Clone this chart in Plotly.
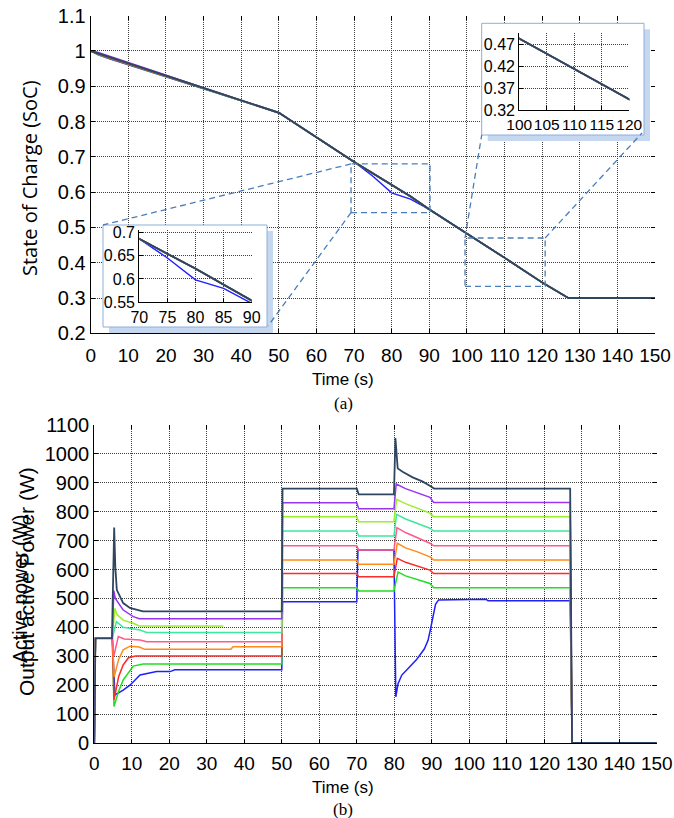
import plotly.graph_objects as go

W, H = 674, 818

# ---------------- data ----------------
series_names = ["blue", "green", "red", "orange", "pink", "aqua", "lime", "purple", "slate"]
series_colors = ["#1f1fff", "#22dd22", "#ff2a2a", "#ff8c1a", "#ff5a8c",
                 "#3ee89c", "#9cef2e", "#9a34f5", "#2e4660"]

# (a) State of charge
soc_t = [0, 2, 5, 50, 70, 75, 80, 85, 90, 100, 110, 120, 127, 150]
soc_blue = [1.0, 0.989, 0.978, 0.825, 0.686, 0.645, 0.598, 0.580, 0.551, 0.483, 0.414, 0.344, 0.300, 0.300]
soc_green = [1.0, 0.990, 0.979, 0.825, 0.686, 0.654, 0.622, 0.588, 0.551, 0.483, 0.414, 0.344, 0.300, 0.300]
soc_red = [1.0, 0.991, 0.980, 0.825, 0.686, 0.654, 0.622, 0.588, 0.551, 0.483, 0.414, 0.344, 0.300, 0.300]
soc_orange = [1.0, 0.992, 0.981, 0.825, 0.686, 0.654, 0.622, 0.588, 0.551, 0.483, 0.414, 0.344, 0.300, 0.300]
soc_pink = [1.0, 0.993, 0.982, 0.825, 0.686, 0.654, 0.622, 0.588, 0.551, 0.483, 0.414, 0.344, 0.300, 0.300]
soc_aqua = [1.0, 0.994, 0.983, 0.825, 0.686, 0.654, 0.622, 0.588, 0.551, 0.483, 0.414, 0.344, 0.300, 0.300]
soc_lime = [1.0, 0.995, 0.984, 0.825, 0.686, 0.654, 0.622, 0.588, 0.551, 0.483, 0.414, 0.344, 0.300, 0.300]
soc_purple = [1.0, 0.996, 0.985, 0.825, 0.686, 0.654, 0.622, 0.588, 0.551, 0.483, 0.414, 0.344, 0.300, 0.300]
soc_slate = [1.0, 0.993, 0.982, 0.825, 0.686, 0.654, 0.622, 0.588, 0.551, 0.483, 0.414, 0.344, 0.300, 0.300]

# (b) Active power
t_blue = [0, 0.3, 4.8, 5.5, 7.7, 9.5, 12.2, 16.6, 20.2, 21.5, 50.0, 50.2, 70.0, 70.3, 79.9, 80.4, 81.0,
          82.0, 84.0, 86.0, 88.0, 89.0, 89.6, 90.3, 91.0, 91.8, 104.5, 105.0, 126.9, 127.4, 150]
p_blue = [0, 362, 362, 166, 183, 200, 235, 247, 247, 253, 253, 489, 489, 668, 668, 160, 205,
          235, 262, 290, 325, 355, 391, 440, 480, 495, 497, 492, 492, 0, 0]
t_green = [0, 0.3, 4.8, 5.25, 6.5, 7.7, 10.4, 13.0, 50.0, 50.2, 70.0, 70.5, 79.9, 81.0, 83.0, 86.0,
           89.5, 90.5, 126.9, 127.4, 150]
p_green = [0, 362, 362, 126, 180, 218, 266, 273, 273, 537, 537, 526, 526, 591, 578, 566,
           552, 537, 537, 0, 0]
t_red = [0, 0.3, 4.8, 5.25, 6.5, 7.7, 9.1, 11.0, 50.0, 50.2, 70.0, 70.5, 79.9, 80.8, 83.0, 86.0,
         89.5, 90.5, 126.9, 127.4, 150]
p_red = [0, 362, 362, 149, 230, 270, 295, 301, 301, 586, 586, 575, 575, 639, 625, 612,
         598, 586, 586, 0, 0]
t_orange = [0, 0.3, 4.8, 5.3, 6.5, 7.7, 9.5, 12.0, 13.5, 36.4, 37.0, 50.0, 50.2, 70.0, 70.5, 79.9,
            80.8, 83.0, 86.0, 89.5, 90.5, 126.9, 127.4, 150]
p_orange = [0, 362, 362, 229, 290, 322, 335, 332, 324, 324, 333, 333, 633, 633, 618, 618,
            691, 675, 662, 644, 633, 633, 0, 0]
t_pink = [0, 0.3, 4.8, 5.2, 6.4, 8.0, 12.2, 14.0, 50.0, 50.2, 70.0, 70.5, 79.9, 80.7, 83.0, 86.0,
          89.5, 90.5, 126.9, 127.4, 150]
p_pink = [0, 362, 362, 300, 368, 360, 356, 350, 350, 682, 682, 668, 668, 745, 728, 712,
          691, 682, 682, 0, 0]
t_aqua = [0, 0.3, 4.8, 5.9, 7.7, 12.2, 14.0, 50.0, 50.2, 70.0, 70.5, 79.9, 80.6, 83.0, 86.0,
          89.5, 90.5, 126.9, 127.4, 150]
p_aqua = [0, 362, 362, 420, 400, 391, 382, 382, 733, 733, 716, 716, 791, 775, 760,
          743, 733, 733, 0, 0]
t_lime = [0, 0.3, 4.8, 5.5, 6.0, 7.7, 10.4, 12.0, 34.4, 34.5, 49.9, 50.2, 70.0, 70.5, 79.9, 80.6,
          83.0, 86.0, 89.5, 90.5, 126.9, 127.4, 150]
p_lime = [0, 362, 362, 466, 445, 425, 414, 405, 405, None, 405, 783, 783, 765, 765, 843,
          828, 812, 795, 783, 783, 0, 0]
t_purple = [0, 0.3, 4.8, 5.2, 5.6, 7.7, 10.4, 12.0, 50.0, 50.2, 70.0, 70.5, 79.9, 80.5, 83.0, 86.0,
            89.5, 90.5, 126.9, 127.4, 150]
p_purple = [0, 362, 362, 527, 500, 460, 437, 430, 430, 831, 831, 810, 810, 896, 880, 865,
            850, 832, 832, 0, 0]
t_slate = [0, 0.3, 4.7, 5.3, 5.6, 6.0, 7.7, 9.5, 12.2, 13.0, 50.0, 50.2, 70.0, 70.5, 79.9, 80.3,
           80.9, 82.2, 84.9, 87.6, 89.8, 90.6, 126.9, 127.4, 150]
p_slate = [0, 362, 362, 745, 610, 530, 484, 467, 458, 455, 455, 880, 880, 860, 860, 1055,
           950, 938, 919, 904, 887, 880, 880, 0, 0]

# ticks
time_ticks = list(range(0, 151, 10))
soc_ticks = [0.2, 0.3, 0.4, 0.5, 0.6, 0.7, 0.8, 0.9, 1.0, 1.1]
soc_labels = ["0.2", "0.3", "0.4", "0.5", "0.6", "0.7", "0.8", "0.9", "1", "1.1"]
power_ticks = list(range(0, 1101, 100))
in1_xticks = [70, 75, 80, 85, 90]
in1_yticks = [0.55, 0.6, 0.65, 0.7]
in1_ylabels = ["0.55", "0.6", "0.65", "0.7"]
in2_xticks = [100, 105, 110, 115, 120]
in2_yticks = [0.32, 0.37, 0.42, 0.47]

soc_series = [soc_blue, soc_green, soc_red, soc_orange, soc_pink, soc_aqua, soc_lime, soc_purple, soc_slate]
pow_t = [t_blue, t_green, t_red, t_orange, t_pink, t_aqua, t_lime, t_purple, t_slate]
pow_p = [p_blue, p_green, p_red, p_orange, p_pink, p_aqua, p_lime, p_purple, p_slate]

# ---------------- layout geometry (pixels -> paper) ----------------
def px(x):
    return x / W

def py(y):
    return 1 - y / H

TOP_X = [px(90.7), px(655)]
TOP_Y = [py(333.3), py(15.7)]
BOT_X = [px(94.3), px(656.8)]
BOT_Y = [py(743), py(425)]
IN1_X = [px(139.3), px(251.7)]
IN1_Y = [py(302.3), py(230)]
IN2_X = [px(519.3), px(629.3)]
IN2_Y = [py(110), py(33.3)]

FONT = "Liberation Sans, Arial, sans-serif"
GRID = "#3c3c3c"

fig = go.Figure()

for i, name in enumerate(series_names):
    w = 2.0 if name == "slate" else 1.4
    fig.add_trace(go.Scatter(x=soc_t, y=soc_series[i], mode="lines", xaxis="x", yaxis="y",
                             line=dict(color=series_colors[i], width=w),
                             showlegend=False, hoverinfo="skip"))
for i, name in enumerate(series_names):
    w = 1.8 if name == "slate" else 1.5
    fig.add_trace(go.Scatter(x=pow_t[i], y=pow_p[i], mode="lines", xaxis="x2", yaxis="y2",
                             line=dict(color=series_colors[i], width=w), connectgaps=False,
                             showlegend=False, hoverinfo="skip"))

# inset boxes (white cards with light-blue shadow), drawn in a full-page layer
def card(x0, y0, x1, y1):
    return [px(x0), px(x1), px(x1), px(x0), px(x0)], [py(y0), py(y0), py(y1), py(y1), py(y0)]

for (bx0, by0, bx1, by1) in ((103, 225, 267, 327), (481.7, 23.3, 644, 135)):
    sx, sy = card(bx0 + 6, by0 + 6, bx1 + 6, by1 + 6)
    fig.add_trace(go.Scatter(x=sx, y=sy, xaxis="x3", yaxis="y3", mode="lines", fill="toself",
                             fillcolor="#c6d8ef", line=dict(width=0), showlegend=False, hoverinfo="skip"))
    cx, cy = card(bx0, by0, bx1, by1)
    fig.add_trace(go.Scatter(x=cx, y=cy, xaxis="x3", yaxis="y3", mode="lines", fill="toself",
                             fillcolor="white", line=dict(color="#8eaedb", width=1),
                             showlegend=False, hoverinfo="skip"))

# inset curves
for i, name in enumerate(series_names):
    w = 2.0 if name == "slate" else 1.4
    for xa, ya in (("x4", "y4"), ("x5", "y5")):
        fig.add_trace(go.Scatter(x=soc_t, y=soc_series[i], mode="lines", xaxis=xa, yaxis=ya,
                                 line=dict(color=series_colors[i], width=w),
                                 showlegend=False, hoverinfo="skip"))

# dummy traces to register mirror-tick axes
for xa, ya in (("x6", "y"), ("x", "y6"), ("x7", "y2"), ("x2", "y7")):
    fig.add_trace(go.Scatter(x=[None], y=[None], xaxis=xa, yaxis=ya, mode="lines",
                             showlegend=False, hoverinfo="skip"))

def ax(domain, rng, tickvals, ticktext=None, anchor=None, size=19, standoff=0):
    d = dict(domain=domain, range=rng, tickmode="array", tickvals=tickvals,
             ticks="inside", ticklen=4, tickcolor="black", tickwidth=1, tickangle=0,
             showgrid=True, gridcolor=GRID, gridwidth=1, griddash="1px,1px",
             showline=True, linecolor="black", linewidth=1.2, zeroline=False, automargin=False,
             ticklabelstandoff=standoff,
             tickfont=dict(family=FONT, size=size, color="black"), fixedrange=True)
    if ticktext is not None:
        d["ticktext"] = ticktext
    if anchor:
        d["anchor"] = anchor
    return d

def mirror(overlay, anchor, side, rng, tickvals):
    return dict(overlaying=overlay, anchor=anchor, side=side, range=rng, tickmode="array",
                tickvals=tickvals, ticks="inside", ticklen=4, tickcolor="black",
                showticklabels=False, showgrid=False, showline=False, zeroline=False,
                automargin=False, fixedrange=True)

# connectors: top-axes data -> paper
def tp(t, s):
    return (TOP_X[0] + (TOP_X[1] - TOP_X[0]) * t / 150.0,
            TOP_Y[0] + (TOP_Y[1] - TOP_Y[0]) * (s - 0.2) / 0.9)

DASH = dict(color="#4a7ebb", width=1.3, dash="6px,4px")
shapes = [
    dict(type="rect", xref="x", yref="y", x0=69.2, x1=90.2, y0=0.542, y1=0.68, line=DASH, layer="above"),
    dict(type="rect", xref="x", yref="y", x0=99.5, x1=120.8, y0=0.333, y1=0.47, line=DASH, layer="above"),
]
for (t, s), (qx, qy) in (((69.2, 0.68), (103, 225)), ((69.2, 0.542), (268, 326)),
                         ((99.5, 0.47), (481.7, 135)), ((120.8, 0.47), (642, 133))):
    a = tp(t, s)
    shapes.append(dict(type="line", xref="paper", yref="paper", x0=a[0], y0=a[1],
                       x1=px(qx), y1=py(qy), line=DASH, layer="above"))

def ann(text, x, y, size, family=FONT, angle=0):
    return dict(text=text, x=px(x), y=py(y), xref="paper", yref="paper", showarrow=False,
                textangle=angle, font=dict(family=family, size=size, color="black"),
                xanchor="center", yanchor="middle")

annotations = [
    ann("Time (s)", 343, 379, 17),
    ann("(a)", 343, 404, 17, family="Liberation Serif, Times New Roman, serif"),
    ann("Time (s)", 343, 787, 17),
    ann("(b)", 343, 809, 17, family="Liberation Serif, Times New Roman, serif"),
    ann("State of Charge (SoC)", 30, 178, 20, family="Open Sans, Noto Sans, sans-serif", angle=-90),
    ann("Output active Power (W)", 26, 582, 21, angle=-90),
    ann("Active power (W)", 20, 589, 19.5, angle=-90),
]

fig.update_layout(
    width=W, height=H, margin=dict(l=0, r=0, t=0, b=0, autoexpand=False),
    paper_bgcolor="white", plot_bgcolor="rgba(0,0,0,0)", showlegend=False,
    xaxis=ax(TOP_X, [0, 150], time_ticks, anchor="y", standoff=5),
    yaxis=ax(TOP_Y, [0.2, 1.1], soc_ticks, soc_labels, anchor="x", size=20),
    xaxis2=ax(BOT_X, [0, 150], time_ticks, anchor="y2", standoff=3),
    yaxis2=ax(BOT_Y, [0, 1100], power_ticks, anchor="x2", size=20),
    xaxis3=dict(domain=[0, 1], range=[0, 1], visible=False, fixedrange=True, anchor="y3", automargin=False),
    yaxis3=dict(domain=[0, 1], range=[0, 1], visible=False, fixedrange=True, anchor="x3", automargin=False),
    xaxis4=ax(IN1_X, [70, 90], in1_xticks, anchor="y4", size=16),
    yaxis4=ax(IN1_Y, [0.55, 0.705], in1_yticks, in1_ylabels, anchor="x4", size=16),
    xaxis5=ax(IN2_X, [100, 120], in2_xticks, anchor="y5", size=15.5),
    yaxis5=ax(IN2_Y, [0.32, 0.495], in2_yticks, anchor="x5", size=16),
    xaxis6=mirror("x", "y", "top", [0, 150], time_ticks),
    yaxis6=mirror("y", "x", "right", [0.2, 1.1], soc_ticks),
    xaxis7=mirror("x2", "y2", "top", [0, 150], time_ticks),
    yaxis7=mirror("y2", "x2", "right", [0, 1100], power_ticks),
    shapes=shapes, annotations=annotations,
)

fig.write_html("out.html", config={"displayModeBar": False},
               post_script="document.body.style.margin='0';document.body.style.overflow='hidden';")
